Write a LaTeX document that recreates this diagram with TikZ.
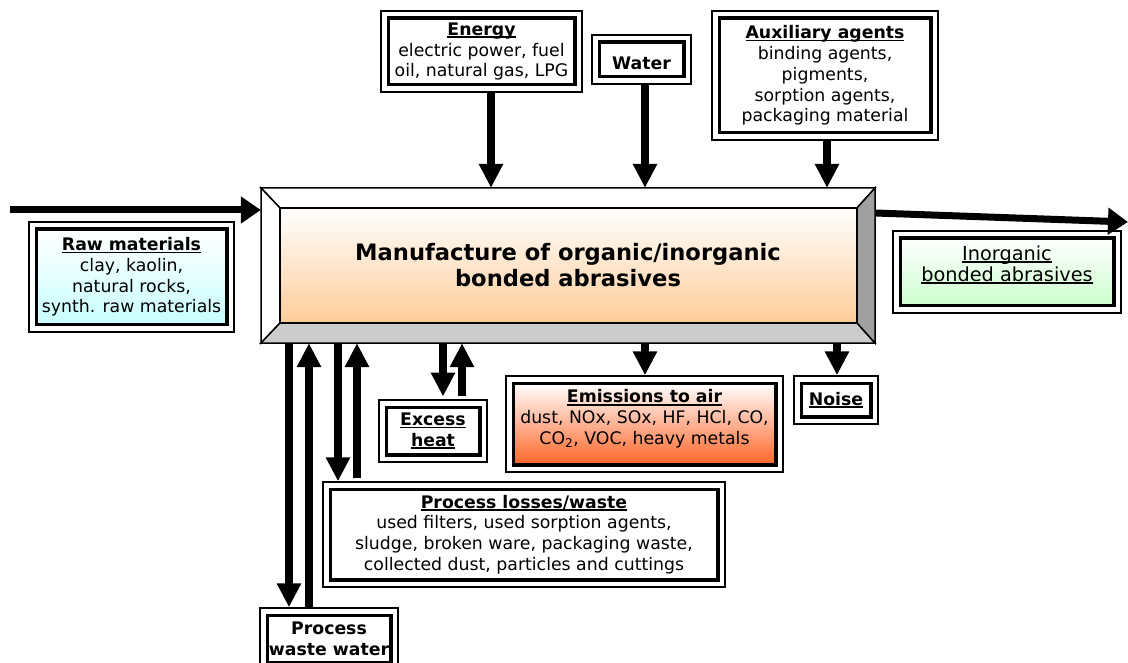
\documentclass[tikz,border=0pt]{standalone}
\usepackage{fontspec}
\setmainfont{DejaVu Sans}
\usetikzlibrary{arrows.meta,shadings}
\newcommand\ulx[1]{\setbox0\hbox{#1}\rlap{\rule[-2.8pt]{\wd0}{1.8pt}}\box0}
\definecolor{peach}{RGB}{255,204,153}
\definecolor{lcyan}{RGB}{200,255,255}
\definecolor{lgreen}{RGB}{204,255,204}
\definecolor{emisor}{RGB}{255,100,40}
\definecolor{bevgray}{RGB}{204,204,204}
\definecolor{bevdark}{RGB}{160,160,160}
\begin{document}
\begin{tikzpicture}[x=1pt,y=-1pt,
  txt/.style={inner sep=0pt, align=center, font=\fontsize{17.3}{20.8}\selectfont},
  inbox/.style={txt, draw=black, line width=3.5pt},
  outframe/.style={draw=black, line width=2pt},
  varr/.style={line width=8pt, -{Triangle[length=24pt,width=23pt]}},
  harr/.style={line width=7pt, -{Triangle[length=20pt,width=26pt]}},
  bev/.style={draw=black, line width=1.5pt, line join=miter}
]
\useasboundingbox (0,0) rectangle (1128,663);
\fill[white] (0,0) rectangle (1128,663);

% main bevelled box
\filldraw[bev, fill=white] (261,188) -- (875,188) -- (857,208) -- (280,208) -- cycle;
\filldraw[bev, fill=white] (261,188) -- (280,208) -- (280,323) -- (261,343) -- cycle;
\filldraw[bev, fill=bevgray] (261,343) -- (280,323) -- (857,323) -- (875,343) -- cycle;
\filldraw[bev, fill=bevdark] (875,188) -- (875,343) -- (857,323) -- (857,208) -- cycle;
\shade[top color=white, bottom color=peach] (280,208) rectangle (857,323);
\draw[bev] (280,208) rectangle (857,323);
\node[minimum width=614pt, minimum height=155pt, inner sep=0pt, align=center,
  font=\fontsize{22.6}{26}\bfseries\selectfont] (main) at (568,265.5)
  {Manufacture of organic/inorganic\\bonded abrasives};

% boxes
\node[inbox, minimum width=190.5pt, minimum height=95.5pt, top color=white, bottom color=lcyan] (raw) at (131.5,277)
  {\ulx{\bfseries Raw materials}\\clay, kaolin,\\natural rocks,\\synth. raw materials};
\node[inbox, minimum width=186.5pt, minimum height=66.5pt, fill=white] (energy) at (481.5,51.5)
  {\ulx{\bfseries Energy}\\electric power, fuel\\oil, natural gas, LPG};
\node[inbox, minimum width=84.5pt, minimum height=34.5pt, fill=white] (water) at (641.5,59.5) {};
\node[txt] at ([yshift=-3.5pt]water.center) {\bfseries Water};
\node[inbox, minimum width=211.5pt, minimum height=114.5pt, fill=white] (aux) at (825,75.5)
  {\ulx{\bfseries Auxiliary agents}\\binding agents,\\pigments,\\sorption agents,\\packaging material};
\node[inbox, minimum width=213.5pt, minimum height=67.5pt, top color=white, bottom color=lgreen] (inorg) at (1007,272) {};
\node[txt, font=\fontsize{19.3}{21}\selectfont] at ([yshift=7pt]inorg.center) {\ulx{Inorganic}\\\ulx{bonded abrasives}};
\node[inbox, minimum width=93.5pt, minimum height=47.5pt, fill=white] (excess) at (433,431)
  {\ulx{\bfseries Excess}\\\ulx{\bfseries heat}};
\node[inbox, minimum width=262.5pt, minimum height=81.5pt, top color=white, bottom color=emisor] (emis) at (644.5,424) {};
\node[txt] at ([yshift=5pt]emis.center)
  {\ulx{\bfseries Emissions to air}\\dust, NOx, SOx, HF, HCl, CO,\\CO\textsubscript{2}, VOC, heavy metals};
\node[inbox, minimum width=69.5pt, minimum height=33.5pt, fill=white] (noise) at (836,400)
  {\ulx{\bfseries Noise}};
\node[inbox, minimum width=387.5pt, minimum height=90.5pt, fill=white] (losses) at (524,534.5)
  {\ulx{\bfseries Process losses/waste}\\used filters, used sorption agents,\\sludge, broken ware, packaging waste,\\collected dust, particles and cuttings};
\node[inbox, minimum width=123.5pt, minimum height=47.5pt, fill=white] (pww) at (329,639)
  {\bfseries Process\\\bfseries waste water};

\foreach \n in {raw,energy,water,aux,inorg,excess,emis,noise,losses,pww}
  \draw[outframe] ([shift={(-5.25,-5.25)}]\n.north west) rectangle ([shift={(5.25,5.25)}]\n.south east);

% input / output arrows
\coordinate (rawin) at (10,210);
\coordinate (prodout) at (1128,222);
\draw[harr] (rawin) -- ([yshift=55.5pt]main.west);
\draw[harr] ([yshift=52.5pt]main.east) -- (prodout);

% top arrows
\draw[varr] ([xshift=9.5pt,yshift=-6.25pt]energy.south) -- ([xshift=-77pt]main.north);
\draw[varr] ([xshift=3.5pt,yshift=-6.25pt]water.south) -- ([xshift=77pt]main.north);
\draw[varr] ([xshift=2pt,yshift=-6.25pt]aux.south) -- ([xshift=259pt]main.north);

% bottom arrows
\draw[varr] ([xshift=-279pt]main.south) -- ([xshift=-40pt,yshift=6.25pt]pww.north);
\draw[varr] ([xshift=-20pt,yshift=6.25pt]pww.north) -- ([xshift=-259pt]main.south);
\draw[varr] ([xshift=-230pt]main.south) -- ([xshift=-186pt,yshift=6.25pt]losses.north);
\draw[varr] ([xshift=-167pt,yshift=9.25pt]losses.north) -- ([xshift=-211pt]main.south);
\draw[varr] ([xshift=-125pt]main.south) -- ([xshift=10pt,yshift=9pt]excess.north);
\draw[varr] ([xshift=29pt,yshift=10pt]excess.north) -- ([xshift=-106pt]main.south);
\draw[varr] ([xshift=77pt]main.south) -- ([xshift=0.5pt,yshift=6.25pt]emis.north);
\draw[varr] ([xshift=269pt]main.south) -- ([xshift=1pt,yshift=6.25pt]noise.north);
\end{tikzpicture}
\end{document}
